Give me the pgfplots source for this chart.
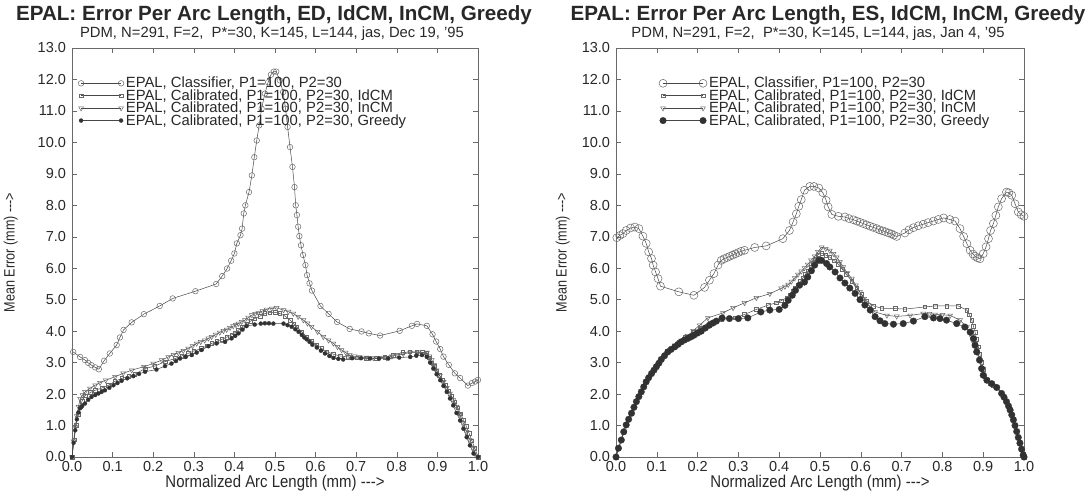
\documentclass[border=0pt]{standalone}
\usepackage{fontspec}
\setmainfont{Liberation Sans}
\newfontfamily\narrow[FakeStretch=0.88]{Liberation Sans}
\newfontfamily\ylabfont[FakeStretch=0.84]{Liberation Sans}
\usepackage{pgfplots}
\pgfplotsset{compat=1.18}

\definecolor{lineg}{RGB}{70,70,70}
\definecolor{markg}{RGB}{105,105,105}
\definecolor{fillg}{RGB}{50,50,50}
\definecolor{txtg}{RGB}{40,40,40}

\pgfplotsset{
  epal/.style={
    scale only axis, height=409pt,
    xmin=0, xmax=1, ymin=0, ymax=13,
    xtick={0,0.1,0.2,0.3,0.4,0.5,0.6,0.7,0.8,0.9,1},
    ytick={0,1,2,3,4,5,6,7,8,9,10,11,12,13},
    tick align=inside, tick pos=both, major tick length=5pt,
    axis line style={markg, line width=0.6pt},
    tick style={markg, line width=0.5pt},
    xticklabel style={yshift=-1pt, /pgf/number format/.cd, fixed, fixed zerofill, precision=1, assume math mode=true},
    yticklabel style={xshift=-2.5pt, /pgf/number format/.cd, fixed, fixed zerofill, precision=1, assume math mode=true},
    ticklabel style={font=\fontsize{14.5}{16}\selectfont, text=txtg},
    xlabel={Normalized Arc Length (mm) -{}-{}->},
    ylabel={Mean Error (mm) -{}-{}->},
    xlabel style={font=\narrow\fontsize{17}{18}\selectfont, text=txtg, yshift=3.5pt},
    ylabel style={font=\ylabfont\fontsize{15}{16}\selectfont, text=txtg},
    legend style={draw=none, fill=none, font=\fontsize{14.8}{15}\selectfont, text=txtg,
      anchor=north west, inner sep=0pt, row sep=-3.8pt, cells={anchor=west}},
    legend image code/.code={\draw[##1] plot coordinates {(0pt,0pt) (40pt,0pt)};},
    every axis plot/.append style={lineg, line width=0.5pt},
  },
  cls/.style={mark=o, mark size=#1, mark options={markg, line width=0.5pt}},
  idc/.style={mark=square, mark size=#1, mark options={markg, line width=0.5pt}},
  inc/.style={mark=triangle, mark size=#1, mark options={markg, line width=0.5pt, rotate=180}},
  grd/.style={mark=*, mark size=#1, mark options={fillg, fill=fillg, line width=0.3pt}},
}

\begin{document}
\begin{tikzpicture}
\path[use as bounding box] (0,0) rectangle (1089pt,496pt);

\begin{axis}[epal, width=406pt, at={(72pt,39pt)}, anchor=south west,
  ylabel style={at={(axis description cs:-0.125,0.5)}, anchor=south},
  legend style={at={(0.015,0.934)}}]
\addplot[cls=2.8pt] table {%
0.003 3.34
0.020 3.18
0.032 3.08
0.040 2.99
0.048 2.92
0.057 2.85
0.066 2.79
0.079 3.06
0.093 3.29
0.110 3.56
0.118 3.80
0.127 4.04
0.147 4.28
0.177 4.54
0.216 4.80
0.248 5.04
0.304 5.27
0.355 5.50
0.370 5.75
0.382 5.99
0.392 6.24
0.400 6.47
0.406 6.79
0.415 7.05
0.419 7.26
0.423 7.74
0.427 8.00
0.436 8.42
0.443 8.95
0.449 9.53
0.455 10.06
0.461 10.54
0.467 11.07
0.475 11.55
0.483 11.91
0.490 12.15
0.497 12.25
0.503 12.25
0.512 11.97
0.520 11.60
0.526 11.07
0.531 10.49
0.537 9.85
0.543 9.22
0.548 8.58
0.551 8.00
0.554 7.69
0.557 7.32
0.560 7.02
0.564 6.73
0.569 6.42
0.575 6.10
0.579 5.78
0.585 5.52
0.591 5.29
0.612 4.80
0.632 4.55
0.653 4.29
0.684 4.07
0.713 3.99
0.731 3.93
0.759 3.86
0.807 4.01
0.837 4.17
0.850 4.23
0.874 4.17
0.888 3.90
0.897 3.67
0.907 3.43
0.915 3.19
0.928 2.93
0.943 2.66
0.956 2.51
0.975 2.27
0.985 2.35
0.993 2.40
1.000 2.45
};
\addlegendentry{EPAL, Classifier, P1=100, P2=30}
\addplot[idc=1.8pt] table {%
0 0
0.005 0.55
0.010 1.00
0.015 1.35
0.020 1.60
0.025 1.78
0.032 1.95
0.045 2.05
0.057 2.12
0.075 2.20
0.090 2.28
0.105 2.40
0.123 2.50
0.140 2.57
0.155 2.63
0.180 2.81
0.204 2.89
0.229 3.03
0.254 3.13
0.270 3.21
0.286 3.29
0.300 3.37
0.319 3.45
0.332 3.53
0.344 3.61
0.357 3.68
0.369 3.74
0.381 3.81
0.393 3.88
0.401 3.95
0.410 4.03
0.420 4.14
0.430 4.24
0.440 4.32
0.450 4.40
0.463 4.48
0.475 4.56
0.487 4.59
0.500 4.60
0.512 4.56
0.525 4.48
0.537 4.35
0.546 4.24
0.554 4.14
0.566 3.98
0.578 3.82
0.590 3.69
0.603 3.56
0.615 3.45
0.627 3.35
0.643 3.27
0.660 3.21
0.680 3.18
0.701 3.15
0.725 3.14
0.750 3.13
0.770 3.18
0.791 3.24
0.815 3.32
0.832 3.34
0.849 3.34
0.862 3.33
0.874 3.29
0.880 3.15
0.886 3.00
0.892 2.88
0.898 2.74
0.905 2.60
0.912 2.45
0.920 2.28
0.928 2.10
0.935 1.93
0.943 1.75
0.950 1.57
0.957 1.38
0.964 1.18
0.971 0.98
0.978 0.76
0.985 0.52
0.992 0.28
1.000 0
};
\addlegendentry{EPAL, Calibrated, P1=100, P2=30, IdCM}
\addplot[inc=2.8pt] table {%
0 0
0.004 0.50
0.008 0.95
0.012 1.30
0.016 1.60
0.020 1.85
0.026 1.97
0.032 2.07
0.044 2.18
0.057 2.28
0.069 2.36
0.083 2.44
0.106 2.55
0.126 2.66
0.147 2.76
0.177 2.87
0.200 2.97
0.221 3.08
0.237 3.18
0.250 3.25
0.262 3.31
0.274 3.38
0.286 3.45
0.297 3.53
0.307 3.61
0.317 3.66
0.327 3.71
0.336 3.77
0.344 3.82
0.354 3.89
0.364 3.96
0.373 4.01
0.381 4.05
0.389 4.11
0.397 4.16
0.404 4.20
0.410 4.24
0.418 4.30
0.426 4.35
0.434 4.43
0.443 4.51
0.451 4.55
0.459 4.58
0.469 4.64
0.479 4.69
0.492 4.72
0.504 4.74
0.521 4.67
0.533 4.62
0.545 4.56
0.557 4.46
0.570 4.35
0.580 4.25
0.590 4.14
0.605 3.98
0.619 3.82
0.632 3.71
0.644 3.61
0.654 3.50
0.664 3.40
0.674 3.32
0.684 3.24
0.696 3.20
0.709 3.18
0.725 3.16
0.742 3.15
0.758 3.15
0.775 3.15
0.788 3.20
0.800 3.24
0.816 3.28
0.833 3.32
0.853 3.33
0.874 3.32
0.880 3.20
0.886 3.08
0.892 2.92
0.898 2.76
0.906 2.58
0.915 2.39
0.923 2.20
0.931 2.02
0.939 1.81
0.947 1.60
0.955 1.34
0.964 1.07
0.972 0.80
0.980 0.54
0.988 0.28
0.995 0.05
1.000 0
};
\addlegendentry{EPAL, Calibrated, P1=100, P2=30, InCM}
\addplot[grd=2pt] table {%
0 0
0.004 0.45
0.008 0.85
0.012 1.20
0.016 1.42
0.020 1.55
0.025 1.62
0.032 1.70
0.040 1.82
0.048 1.91
0.057 1.97
0.065 2.02
0.073 2.07
0.081 2.12
0.092 2.20
0.102 2.28
0.112 2.35
0.122 2.42
0.136 2.50
0.151 2.57
0.165 2.64
0.180 2.71
0.208 2.78
0.229 2.89
0.245 2.97
0.256 3.05
0.266 3.13
0.280 3.18
0.295 3.24
0.307 3.32
0.319 3.40
0.336 3.52
0.356 3.61
0.377 3.66
0.393 3.77
0.402 3.85
0.410 3.93
0.420 4.05
0.430 4.16
0.450 4.21
0.465 4.24
0.475 4.25
0.485 4.25
0.496 4.24
0.521 4.24
0.531 4.19
0.541 4.14
0.550 4.06
0.558 3.98
0.566 3.88
0.572 3.80
0.578 3.74
0.585 3.66
0.592 3.57
0.603 3.48
0.613 3.38
0.623 3.29
0.634 3.21
0.644 3.15
0.656 3.12
0.668 3.10
0.690 3.14
0.712 3.14
0.734 3.13
0.756 3.13
0.779 3.13
0.806 3.16
0.833 3.18
0.848 3.22
0.862 3.24
0.874 3.18
0.882 3.00
0.890 2.81
0.898 2.63
0.907 2.44
0.915 2.26
0.923 2.07
0.931 1.86
0.939 1.64
0.947 1.40
0.956 1.16
0.964 0.90
0.972 0.63
0.980 0.37
0.989 0.11
1.000 0
};
\addlegendentry{EPAL, Calibrated, P1=100, P2=30, Greedy}
\end{axis}

\begin{axis}[epal, width=408pt, at={(616pt,39pt)}, anchor=south west,
  ylabel style={at={(axis description cs:-0.105,0.5)}, anchor=south},
  legend style={at={(0.105,0.934)}}]
\addplot[cls=4pt] table {%
0.002 6.97
0.009 7.04
0.017 7.10
0.025 7.20
0.036 7.28
0.046 7.31
0.056 7.26
0.066 7.02
0.074 6.79
0.080 6.52
0.087 6.31
0.091 6.10
0.097 5.88
0.103 5.67
0.109 5.43
0.154 5.25
0.191 5.14
0.217 5.39
0.229 5.62
0.240 5.83
0.250 6.10
0.258 6.25
0.265 6.30
0.272 6.34
0.279 6.38
0.286 6.42
0.293 6.46
0.300 6.50
0.307 6.54
0.315 6.57
0.340 6.66
0.368 6.71
0.409 6.94
0.425 7.20
0.434 7.47
0.442 7.73
0.448 7.97
0.454 8.18
0.462 8.48
0.475 8.60
0.485 8.60
0.497 8.55
0.507 8.40
0.515 8.16
0.520 7.95
0.529 7.71
0.545 7.65
0.561 7.63
0.571 7.58
0.582 7.54
0.590 7.50
0.598 7.46
0.606 7.42
0.614 7.38
0.622 7.34
0.630 7.30
0.639 7.26
0.646 7.22
0.653 7.19
0.660 7.16
0.668 7.12
0.675 7.09
0.681 7.05
0.688 7.01
0.708 7.12
0.718 7.22
0.729 7.29
0.741 7.35
0.753 7.40
0.765 7.45
0.778 7.50
0.790 7.55
0.803 7.60
0.818 7.55
0.831 7.50
0.843 7.26
0.852 7.01
0.860 6.78
0.868 6.57
0.875 6.45
0.880 6.38
0.886 6.33
0.892 6.30
0.900 6.46
0.907 6.68
0.913 6.94
0.918 7.20
0.925 7.42
0.931 7.68
0.937 7.95
0.945 8.21
0.957 8.42
0.963 8.40
0.970 8.32
0.978 8.05
0.986 7.79
0.993 7.70
1.000 7.65
};
\addlegendentry{EPAL, Classifier, P1=100, P2=30}
\addplot[idc=1.8pt] table {%
0 0
0.013 0.55
0.025 1.03
0.038 1.40
0.050 1.77
0.062 2.08
0.074 2.40
0.087 2.66
0.099 2.88
0.111 3.11
0.127 3.35
0.144 3.52
0.155 3.66
0.170 3.80
0.189 3.96
0.205 4.11
0.230 4.27
0.258 4.37
0.291 4.42
0.315 4.53
0.344 4.69
0.373 4.83
0.393 4.90
0.405 4.97
0.418 5.06
0.426 5.16
0.434 5.27
0.440 5.38
0.446 5.48
0.452 5.58
0.458 5.69
0.464 5.80
0.470 5.90
0.477 6.03
0.483 6.17
0.489 6.30
0.495 6.43
0.504 6.48
0.514 6.42
0.524 6.35
0.535 6.24
0.545 6.12
0.555 5.96
0.565 5.80
0.578 5.59
0.590 5.38
0.602 5.17
0.614 4.96
0.631 4.80
0.651 4.73
0.684 4.72
0.708 4.70
0.757 4.77
0.782 4.80
0.811 4.80
0.839 4.80
0.860 4.67
0.866 4.52
0.872 4.35
0.876 4.16
0.880 3.97
0.884 3.74
0.888 3.50
0.892 3.26
0.896 3.02
0.900 2.78
0.904 2.55
0.910 2.44
0.917 2.35
0.925 2.27
0.933 2.20
0.945 2.04
0.957 1.78
0.966 1.50
0.974 1.20
0.982 0.83
0.990 0.46
0.998 0.08
1.000 0
};
\addlegendentry{EPAL, Calibrated, P1=100, P2=30, IdCM}
\addplot[inc=2.8pt] table {%
0 0
0.013 0.55
0.025 1.03
0.038 1.41
0.050 1.78
0.062 2.09
0.074 2.41
0.087 2.67
0.099 2.90
0.111 3.13
0.127 3.37
0.144 3.55
0.160 3.70
0.175 3.85
0.189 4.01
0.205 4.19
0.225 4.42
0.262 4.58
0.287 4.74
0.315 4.90
0.344 5.06
0.377 5.19
0.405 5.36
0.414 5.42
0.422 5.48
0.430 5.58
0.438 5.69
0.446 5.80
0.454 5.90
0.462 6.01
0.470 6.12
0.478 6.25
0.487 6.38
0.495 6.52
0.504 6.67
0.514 6.62
0.524 6.56
0.533 6.46
0.541 6.35
0.549 6.20
0.557 6.04
0.567 5.85
0.578 5.67
0.588 5.46
0.598 5.24
0.608 5.03
0.619 4.83
0.635 4.61
0.664 4.50
0.688 4.47
0.721 4.50
0.753 4.56
0.768 4.55
0.782 4.53
0.800 4.52
0.819 4.50
0.843 4.35
0.860 4.13
0.872 3.81
0.878 3.60
0.884 3.36
0.890 3.10
0.896 2.84
0.902 2.60
0.909 2.46
0.921 2.35
0.933 2.23
0.945 2.05
0.957 1.79
0.966 1.52
0.974 1.21
0.982 0.84
0.990 0.46
0.998 0.08
1.000 0
};
\addlegendentry{EPAL, Calibrated, P1=100, P2=30, InCM}
\addplot[grd=3.3pt] table {%
0 0
0.006 0.28
0.013 0.54
0.019 0.80
0.025 1.02
0.031 1.20
0.038 1.39
0.044 1.58
0.050 1.76
0.056 1.92
0.062 2.07
0.068 2.23
0.074 2.39
0.080 2.52
0.087 2.65
0.093 2.76
0.099 2.87
0.105 2.98
0.111 3.10
0.119 3.22
0.127 3.34
0.135 3.42
0.144 3.50
0.152 3.58
0.160 3.66
0.168 3.72
0.176 3.77
0.184 3.82
0.191 3.87
0.200 3.94
0.209 4.00
0.219 4.10
0.229 4.19
0.238 4.26
0.246 4.32
0.260 4.42
0.278 4.40
0.300 4.40
0.323 4.42
0.355 4.61
0.377 4.67
0.400 4.69
0.414 4.82
0.422 4.98
0.432 5.14
0.440 5.30
0.450 5.46
0.462 5.56
0.470 5.72
0.479 5.92
0.487 6.10
0.497 6.25
0.504 6.25
0.516 6.15
0.524 6.04
0.537 5.88
0.549 5.69
0.561 5.53
0.573 5.37
0.586 5.20
0.598 5.00
0.610 4.83
0.623 4.67
0.635 4.46
0.647 4.33
0.659 4.24
0.680 4.22
0.704 4.24
0.729 4.32
0.757 4.46
0.778 4.42
0.794 4.40
0.810 4.35
0.835 4.24
0.855 4.13
0.868 3.97
0.876 3.76
0.880 3.55
0.884 3.34
0.891 3.08
0.896 2.81
0.900 2.60
0.909 2.44
0.921 2.33
0.933 2.21
0.945 2.02
0.951 1.90
0.957 1.76
0.962 1.62
0.966 1.49
0.970 1.34
0.974 1.18
0.978 1.00
0.982 0.81
0.986 0.62
0.990 0.44
0.994 0.25
0.998 0.06
1.000 0
};
\addlegendentry{EPAL, Calibrated, P1=100, P2=30, Greedy}
\end{axis}

\node[anchor=base, text=txtg, font=\bfseries\fontsize{20.6}{23}\selectfont] at (274pt,475pt) {EPAL: Error Per Arc Length, ED, IdCM, InCM, Greedy};
\node[anchor=base, text=txtg, font=\fontsize{14.8}{16}\selectfont] at (272pt,458pt) {PDM, N=291, F=2,\ \ P*=30, K=145, L=144, jas, Dec 19, '95};
\node[anchor=base, text=txtg, font=\bfseries\fontsize{20.6}{23}\selectfont] at (828pt,475pt) {EPAL: Error Per Arc Length, ES, IdCM, InCM, Greedy};
\node[anchor=base, text=txtg, font=\fontsize{14.8}{16}\selectfont] at (818pt,458pt) {PDM, N=291, F=2,\ \ P*=30, K=145, L=144, jas, Jan 4, '95};
\end{tikzpicture}
\end{document}
